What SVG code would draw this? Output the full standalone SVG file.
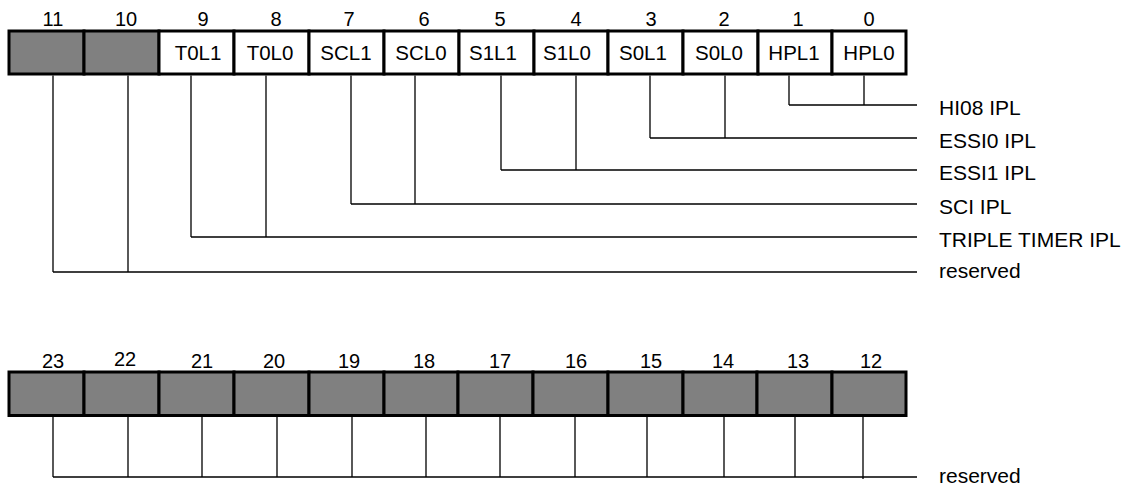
<svg xmlns="http://www.w3.org/2000/svg" width="1130" height="485" viewBox="0 0 1130 485">
<style>
  text { font-family: "Liberation Sans", Arial, sans-serif; fill: #000; }
  .num { font-size: 20px; text-anchor: middle; }
  .lbl { font-size: 20.5px; text-anchor: middle; }
  .sig { font-size: 21px; text-anchor: start; }
  .cell { stroke: #000; stroke-width: 3; }
  .res { fill: #808080; }
  .fld { fill: #fff; }
  .wire { fill: none; stroke: #000; stroke-width: 1.3; }
</style>
<rect width="1130" height="485" fill="#fff"/>

<!-- Top register (bits 11..0) -->
<g id="reg-low">
  <g id="bit11"><rect class="cell res" x="9" y="31" width="75" height="43"/><text class="num" x="53" y="26">11</text></g>
  <g id="bit10"><rect class="cell res" x="84" y="31" width="75" height="43"/><text class="num" x="126" y="26">10</text></g>
  <g id="bit9"><rect class="cell fld" x="159" y="31" width="75" height="43"/><text class="num" x="203" y="26">9</text><text class="lbl" x="198" y="60">T0L1</text></g>
  <g id="bit8"><rect class="cell fld" x="234" y="31" width="75" height="43"/><text class="num" x="276" y="26">8</text><text class="lbl" x="270" y="60">T0L0</text></g>
  <g id="bit7"><rect class="cell fld" x="309" y="31" width="75" height="43"/><text class="num" x="349" y="26">7</text><text class="lbl" x="346" y="60">SCL1</text></g>
  <g id="bit6"><rect class="cell fld" x="384" y="31" width="75" height="43"/><text class="num" x="424" y="26">6</text><text class="lbl" x="421" y="60">SCL0</text></g>
  <g id="bit5"><rect class="cell fld" x="459" y="31" width="75" height="43"/><text class="num" x="500" y="26">5</text><text class="lbl" x="493" y="60">S1L1</text></g>
  <g id="bit4"><rect class="cell fld" x="534" y="31" width="74" height="43"/><text class="num" x="576" y="26">4</text><text class="lbl" x="567" y="60">S1L0</text></g>
  <g id="bit3"><rect class="cell fld" x="608" y="31" width="75" height="43"/><text class="num" x="651" y="26">3</text><text class="lbl" x="643" y="60">S0L1</text></g>
  <g id="bit2"><rect class="cell fld" x="683" y="31" width="75" height="43"/><text class="num" x="724" y="26">2</text><text class="lbl" x="719" y="60">S0L0</text></g>
  <g id="bit1"><rect class="cell fld" x="758" y="31" width="74" height="43"/><text class="num" x="798" y="26">1</text><text class="lbl" x="794" y="60">HPL1</text></g>
  <g id="bit0"><rect class="cell fld" x="832" y="31" width="74" height="43"/><text class="num" x="869" y="26">0</text><text class="lbl" x="869" y="60">HPL0</text></g>
</g>

<!-- Bottom register (bits 23..12) -->
<g id="reg-high">
  <g id="bit23"><rect class="cell res" x="9" y="372" width="75" height="43.5"/><text class="num" x="53" y="368">23</text></g>
  <g id="bit22"><rect class="cell res" x="84" y="372" width="75" height="43.5"/><text class="num" x="125" y="366">22</text></g>
  <g id="bit21"><rect class="cell res" x="159" y="372" width="75" height="43.5"/><text class="num" x="202" y="368">21</text></g>
  <g id="bit20"><rect class="cell res" x="234" y="372" width="75" height="43.5"/><text class="num" x="274" y="368">20</text></g>
  <g id="bit19"><rect class="cell res" x="309" y="372" width="75" height="43.5"/><text class="num" x="349" y="368">19</text></g>
  <g id="bit18"><rect class="cell res" x="384" y="372" width="74" height="43.5"/><text class="num" x="424" y="368">18</text></g>
  <g id="bit17"><rect class="cell res" x="458" y="372" width="75" height="43.5"/><text class="num" x="500" y="368">17</text></g>
  <g id="bit16"><rect class="cell res" x="533" y="372" width="75" height="43.5"/><text class="num" x="576" y="368">16</text></g>
  <g id="bit15"><rect class="cell res" x="608" y="372" width="75" height="43.5"/><text class="num" x="651" y="368">15</text></g>
  <g id="bit14"><rect class="cell res" x="683" y="372" width="74" height="43.5"/><text class="num" x="723" y="368">14</text></g>
  <g id="bit13"><rect class="cell res" x="757" y="372" width="75" height="43.5"/><text class="num" x="798" y="368">13</text></g>
  <g id="bit12"><rect class="cell res" x="832" y="372" width="74" height="43.5"/><text class="num" x="871" y="368">12</text></g>
</g>

<!-- Signal labels -->
<g id="sig-hi08"><text class="sig" x="939" y="115">HI08 IPL</text></g>
<g id="sig-essi0"><text class="sig" x="939" y="148">ESSI0 IPL</text></g>
<g id="sig-essi1"><text class="sig" x="939" y="180">ESSI1 IPL</text></g>
<g id="sig-sci"><text class="sig" x="939" y="214">SCI IPL</text></g>
<g id="sig-timer"><text class="sig" x="939" y="247">TRIPLE TIMER IPL</text></g>
<g id="sig-reserved-low"><text class="sig" x="939" y="278">reserved</text></g>
<g id="sig-reserved-high"><text class="sig" x="939" y="483">reserved</text></g>

<!-- Connectors -->
<g id="connectors" class="wire">
  <path d="M789 75.5V105M864 75.5V105M789 105H917"/>
  <path d="M650 75.5V138M725 75.5V138M650 138H917"/>
  <path d="M501 75.5V170M576 75.5V170M501 170H917"/>
  <path d="M351 75.5V204M415 75.5V204M351 204H917"/>
  <path d="M191 75.5V237M266 75.5V237M191 237H917"/>
  <path d="M53 75.5V272M128 75.5V272M53 272H917"/>
  <path d="M53 417V477M128 417V477M202 417V477M277 417V477M352 417V477M426 417V477M500 417V477M575 417V477M647 417V477M724 417V477M795 417V477M863 417V479M53 477H917"/>
</g>
</svg>
